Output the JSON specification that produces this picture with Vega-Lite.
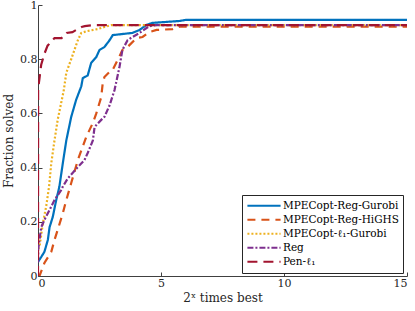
{
  "$schema": "https://vega.github.io/schema/vega-lite/v6.json",
  "width": 369,
  "height": 271,
  "autosize": "none",
  "padding": {"left": 38, "top": 5, "right": 8, "bottom": 35},
  "background": "white",
  "config": {
    "view": {"stroke": null},
    "font": "'DejaVu Serif', serif",
    "axis": {"grid": false, "domainColor": "#404040", "tickColor": "#404040", "labelColor": "#262626", "titleColor": "#262626", "labelFont": "'DejaVu Serif', serif", "titleFont": "'DejaVu Serif', serif", "labelFontSize": 11, "titleFontSize": 12, "titleFontWeight": "normal", "tickSize": -4, "labelPadding": 5}
  },
  "data": {"values": [
    {"s": "MPECopt-Reg-Gurobi", "x": 0, "y": 0.052},
    {"s": "MPECopt-Reg-Gurobi", "x": 0.13, "y": 0.07},
    {"s": "MPECopt-Reg-Gurobi", "x": 0.26, "y": 0.089},
    {"s": "MPECopt-Reg-Gurobi", "x": 0.4, "y": 0.133},
    {"s": "MPECopt-Reg-Gurobi", "x": 0.47, "y": 0.18},
    {"s": "MPECopt-Reg-Gurobi", "x": 0.6, "y": 0.218},
    {"s": "MPECopt-Reg-Gurobi", "x": 0.74, "y": 0.28},
    {"s": "MPECopt-Reg-Gurobi", "x": 0.87, "y": 0.33},
    {"s": "MPECopt-Reg-Gurobi", "x": 1.01, "y": 0.417},
    {"s": "MPECopt-Reg-Gurobi", "x": 1.15, "y": 0.5},
    {"s": "MPECopt-Reg-Gurobi", "x": 1.35, "y": 0.587},
    {"s": "MPECopt-Reg-Gurobi", "x": 1.55, "y": 0.65},
    {"s": "MPECopt-Reg-Gurobi", "x": 1.76, "y": 0.7},
    {"s": "MPECopt-Reg-Gurobi", "x": 1.82, "y": 0.73},
    {"s": "MPECopt-Reg-Gurobi", "x": 2.02, "y": 0.74},
    {"s": "MPECopt-Reg-Gurobi", "x": 2.16, "y": 0.786},
    {"s": "MPECopt-Reg-Gurobi", "x": 2.37, "y": 0.808},
    {"s": "MPECopt-Reg-Gurobi", "x": 2.5, "y": 0.834},
    {"s": "MPECopt-Reg-Gurobi", "x": 2.7, "y": 0.845},
    {"s": "MPECopt-Reg-Gurobi", "x": 2.91, "y": 0.87},
    {"s": "MPECopt-Reg-Gurobi", "x": 3.04, "y": 0.889},
    {"s": "MPECopt-Reg-Gurobi", "x": 3.84, "y": 0.897},
    {"s": "MPECopt-Reg-Gurobi", "x": 4.13, "y": 0.908},
    {"s": "MPECopt-Reg-Gurobi", "x": 4.4, "y": 0.926},
    {"s": "MPECopt-Reg-Gurobi", "x": 4.65, "y": 0.934},
    {"s": "MPECopt-Reg-Gurobi", "x": 5.75, "y": 0.941},
    {"s": "MPECopt-Reg-Gurobi", "x": 6.0, "y": 0.945},
    {"s": "MPECopt-Reg-Gurobi", "x": 15, "y": 0.945},

    {"s": "MPECopt-Reg-HiGHS", "x": 0, "y": 0},
    {"s": "MPECopt-Reg-HiGHS", "x": 0.06, "y": 0.0},
    {"s": "MPECopt-Reg-HiGHS", "x": 0.26, "y": 0.048},
    {"s": "MPECopt-Reg-HiGHS", "x": 0.54, "y": 0.089},
    {"s": "MPECopt-Reg-HiGHS", "x": 0.67, "y": 0.133},
    {"s": "MPECopt-Reg-HiGHS", "x": 0.8, "y": 0.17},
    {"s": "MPECopt-Reg-HiGHS", "x": 1.01, "y": 0.232},
    {"s": "MPECopt-Reg-HiGHS", "x": 1.15, "y": 0.28},
    {"s": "MPECopt-Reg-HiGHS", "x": 1.35, "y": 0.343},
    {"s": "MPECopt-Reg-HiGHS", "x": 1.62, "y": 0.428},
    {"s": "MPECopt-Reg-HiGHS", "x": 1.96, "y": 0.513},
    {"s": "MPECopt-Reg-HiGHS", "x": 2.23, "y": 0.565},
    {"s": "MPECopt-Reg-HiGHS", "x": 2.37, "y": 0.6},
    {"s": "MPECopt-Reg-HiGHS", "x": 2.57, "y": 0.66},
    {"s": "MPECopt-Reg-HiGHS", "x": 2.63, "y": 0.71},
    {"s": "MPECopt-Reg-HiGHS", "x": 2.7, "y": 0.734},
    {"s": "MPECopt-Reg-HiGHS", "x": 2.91, "y": 0.753},
    {"s": "MPECopt-Reg-HiGHS", "x": 3.03, "y": 0.76},
    {"s": "MPECopt-Reg-HiGHS", "x": 3.31, "y": 0.81},
    {"s": "MPECopt-Reg-HiGHS", "x": 3.43, "y": 0.834},
    {"s": "MPECopt-Reg-HiGHS", "x": 3.64, "y": 0.845},
    {"s": "MPECopt-Reg-HiGHS", "x": 4.0, "y": 0.878},
    {"s": "MPECopt-Reg-HiGHS", "x": 4.25, "y": 0.882},
    {"s": "MPECopt-Reg-HiGHS", "x": 4.53, "y": 0.9},
    {"s": "MPECopt-Reg-HiGHS", "x": 4.82, "y": 0.908},
    {"s": "MPECopt-Reg-HiGHS", "x": 5.47, "y": 0.911},
    {"s": "MPECopt-Reg-HiGHS", "x": 5.75, "y": 0.92},
    {"s": "MPECopt-Reg-HiGHS", "x": 15, "y": 0.92},

    {"s": "MPECopt-ℓ₁-Gurobi", "x": 0, "y": 0.1},
    {"s": "MPECopt-ℓ₁-Gurobi", "x": 0.06, "y": 0.107},
    {"s": "MPECopt-ℓ₁-Gurobi", "x": 0.2, "y": 0.196},
    {"s": "MPECopt-ℓ₁-Gurobi", "x": 0.33, "y": 0.255},
    {"s": "MPECopt-ℓ₁-Gurobi", "x": 0.45, "y": 0.33},
    {"s": "MPECopt-ℓ₁-Gurobi", "x": 0.54, "y": 0.417},
    {"s": "MPECopt-ℓ₁-Gurobi", "x": 0.67, "y": 0.5},
    {"s": "MPECopt-ℓ₁-Gurobi", "x": 0.8, "y": 0.576},
    {"s": "MPECopt-ℓ₁-Gurobi", "x": 0.94, "y": 0.638},
    {"s": "MPECopt-ℓ₁-Gurobi", "x": 1.05, "y": 0.686},
    {"s": "MPECopt-ℓ₁-Gurobi", "x": 1.15, "y": 0.75},
    {"s": "MPECopt-ℓ₁-Gurobi", "x": 1.35, "y": 0.8},
    {"s": "MPECopt-ℓ₁-Gurobi", "x": 1.48, "y": 0.834},
    {"s": "MPECopt-ℓ₁-Gurobi", "x": 1.62, "y": 0.87},
    {"s": "MPECopt-ℓ₁-Gurobi", "x": 1.76, "y": 0.897},
    {"s": "MPECopt-ℓ₁-Gurobi", "x": 2.01, "y": 0.904},
    {"s": "MPECopt-ℓ₁-Gurobi", "x": 2.42, "y": 0.911},
    {"s": "MPECopt-ℓ₁-Gurobi", "x": 2.7, "y": 0.919},
    {"s": "MPECopt-ℓ₁-Gurobi", "x": 2.99, "y": 0.926},
    {"s": "MPECopt-ℓ₁-Gurobi", "x": 15, "y": 0.926},

    {"s": "Reg", "x": 0, "y": 0.05},
    {"s": "Reg", "x": 0.01, "y": 0.1},
    {"s": "Reg", "x": 0.13, "y": 0.18},
    {"s": "Reg", "x": 0.26, "y": 0.207},
    {"s": "Reg", "x": 0.47, "y": 0.244},
    {"s": "Reg", "x": 0.67, "y": 0.28},
    {"s": "Reg", "x": 0.94, "y": 0.317},
    {"s": "Reg", "x": 1.01, "y": 0.33},
    {"s": "Reg", "x": 1.21, "y": 0.36},
    {"s": "Reg", "x": 1.62, "y": 0.402},
    {"s": "Reg", "x": 1.89, "y": 0.428},
    {"s": "Reg", "x": 2.02, "y": 0.454},
    {"s": "Reg", "x": 2.23, "y": 0.5},
    {"s": "Reg", "x": 2.3, "y": 0.55},
    {"s": "Reg", "x": 2.57, "y": 0.576},
    {"s": "Reg", "x": 2.7, "y": 0.587},
    {"s": "Reg", "x": 2.91, "y": 0.63},
    {"s": "Reg", "x": 3.11, "y": 0.686},
    {"s": "Reg", "x": 3.31, "y": 0.77},
    {"s": "Reg", "x": 3.43, "y": 0.834},
    {"s": "Reg", "x": 3.64, "y": 0.87},
    {"s": "Reg", "x": 3.84, "y": 0.882},
    {"s": "Reg", "x": 4.13, "y": 0.897},
    {"s": "Reg", "x": 4.41, "y": 0.915},
    {"s": "Reg", "x": 4.53, "y": 0.922},
    {"s": "Reg", "x": 4.8, "y": 0.926},
    {"s": "Reg", "x": 15, "y": 0.926},

    {"s": "Pen-ℓ₁", "x": 0, "y": 0},
    {"s": "Pen-ℓ₁", "x": 0.005, "y": 0.69},
    {"s": "Pen-ℓ₁", "x": 0.13, "y": 0.78},
    {"s": "Pen-ℓ₁", "x": 0.26, "y": 0.82},
    {"s": "Pen-ℓ₁", "x": 0.39, "y": 0.85},
    {"s": "Pen-ℓ₁", "x": 0.67, "y": 0.878},
    {"s": "Pen-ℓ₁", "x": 0.96, "y": 0.878},
    {"s": "Pen-ℓ₁", "x": 1.16, "y": 0.897},
    {"s": "Pen-ℓ₁", "x": 1.4, "y": 0.9},
    {"s": "Pen-ℓ₁", "x": 1.77, "y": 0.919},
    {"s": "Pen-ℓ₁", "x": 1.9, "y": 0.922},
    {"s": "Pen-ℓ₁", "x": 2.3, "y": 0.926},
    {"s": "Pen-ℓ₁", "x": 15, "y": 0.926}
  ]},
  "mark": {"type": "line", "strokeWidth": 2.2, "clip": true},
  "encoding": {
    "x": {"field": "x", "type": "quantitative", "scale": {"domain": [0, 15], "nice": false}, "axis": {"values": [0, 5, 10, 15], "title": "2ˣ times best", "titlePadding": 4}},
    "y": {"field": "y", "type": "quantitative", "scale": {"domain": [0, 1], "nice": false}, "axis": {"values": [0, 0.2, 0.4, 0.6, 0.8, 1], "format": "~g", "title": "Fraction solved", "titlePadding": 4}},
    "color": {"field": "s", "type": "nominal",
      "scale": {"domain": ["MPECopt-Reg-Gurobi", "MPECopt-Reg-HiGHS", "MPECopt-ℓ₁-Gurobi", "Reg", "Pen-ℓ₁"], "range": ["#0072BD", "#D95319", "#EDB120", "#7E2F8E", "#A2142F"]},
      "legend": {"title": null, "orient": "none", "legendX": 204, "legendY": 190, "symbolType": "stroke", "symbolSize": 1100, "symbolStrokeWidth": 2, "clipHeight": 13.5, "labelFont": "'DejaVu Serif', serif", "labelFontSize": 10.5, "labelColor": "#000", "labelOffset": 1, "fillColor": "white", "strokeColor": "#262626", "padding": 4, "rowPadding": 0, "offset": 0}},
    "strokeDash": {"field": "s", "type": "nominal",
      "scale": {"domain": ["MPECopt-Reg-Gurobi", "MPECopt-Reg-HiGHS", "MPECopt-ℓ₁-Gurobi", "Reg", "Pen-ℓ₁"], "range": [[1, 0], [8, 6], [2, 2], [6, 2, 2, 2], [10, 6]]},
      "legend": null}
  }
}
